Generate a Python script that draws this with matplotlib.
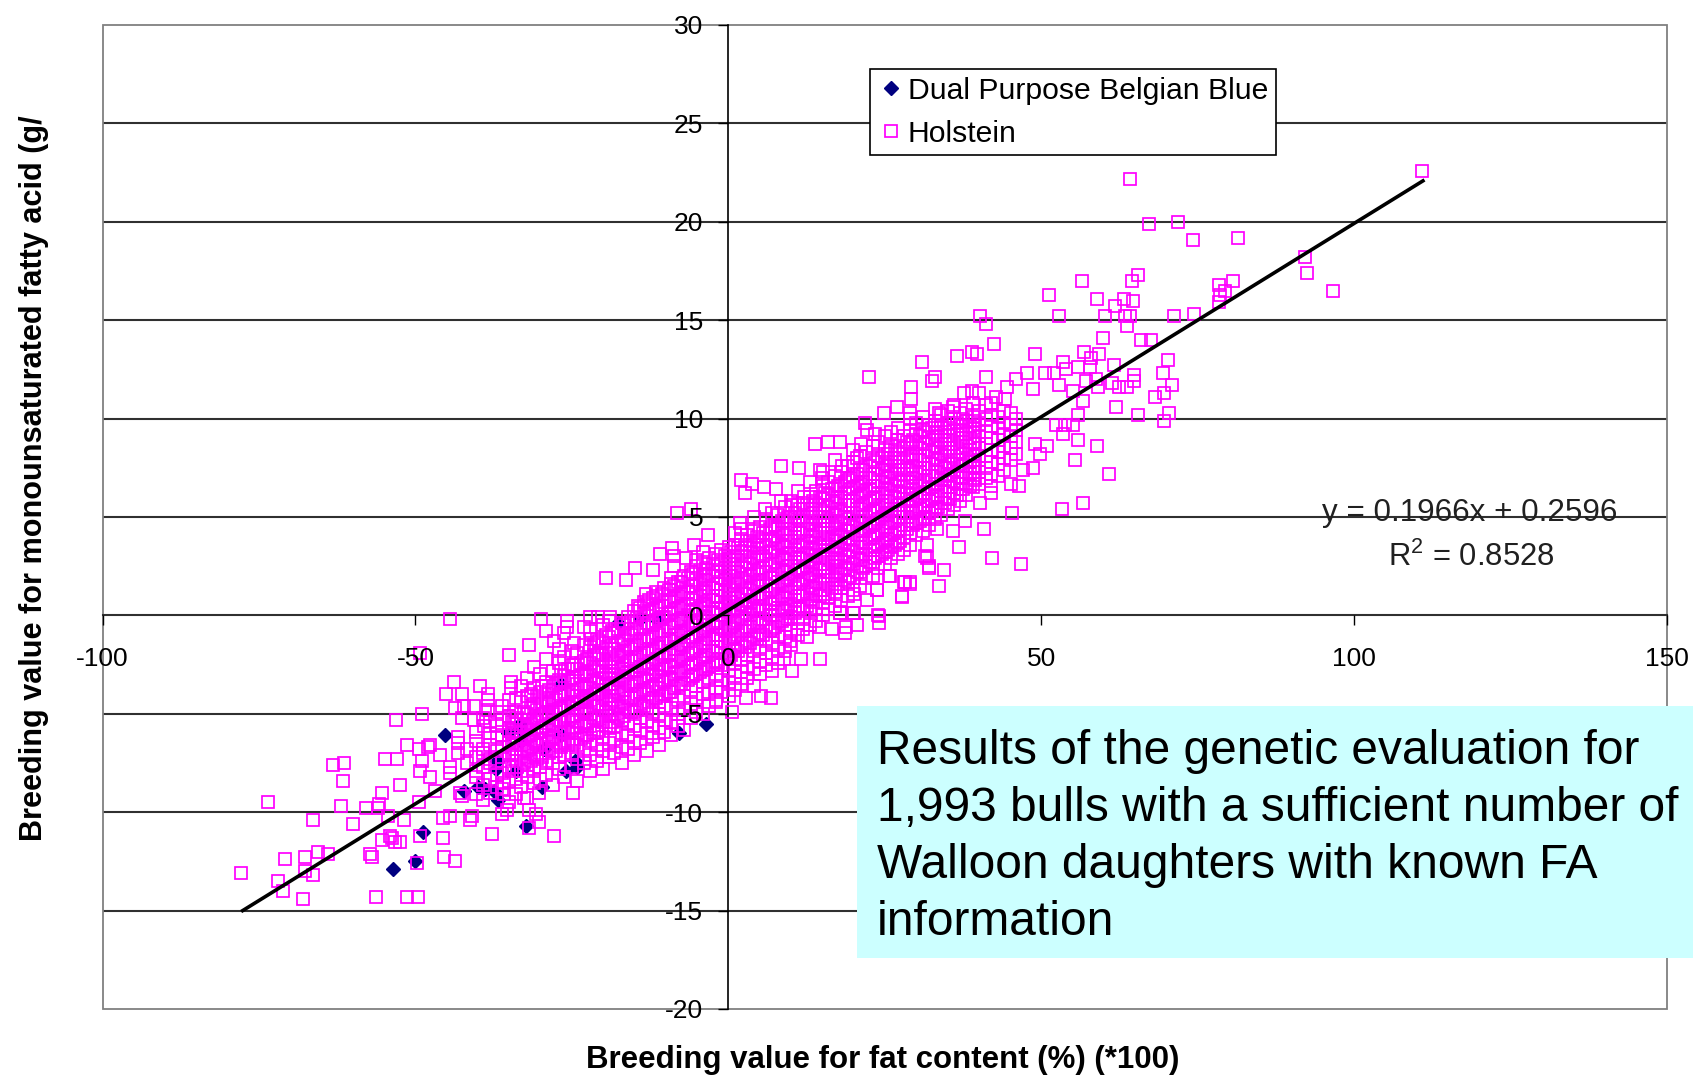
import numpy as np
import matplotlib
matplotlib.use("Agg")
import matplotlib.pyplot as plt
from matplotlib.patches import Rectangle

plt.rcParams['font.family'] = ['Liberation Sans', 'DejaVu Sans']
plt.rcParams['mathtext.fontset'] = 'custom'
plt.rcParams['mathtext.rm'] = 'Liberation Sans'
plt.rcParams['mathtext.default'] = 'regular'
plt.rcParams['axes.unicode_minus'] = False

# Dual Purpose Belgian Blue
blue_x = [-45.2, -48.8, -50.0, -53.5, -36.8, -37.5, -40.0, -38.8, -42.3, -32.4, -29.7, -34.0, -37.2, -36.9,
          -35.2, -33.3, -33.2, -29.5, -26.0, -24.1, -26.8, -26.8, -3.5, -11.2, -14.1, -17.7, -7.9, -35.0, -33.3,
          -24.5]
blue_y = [-6.1, -11.0, -12.5, -12.9, -9.4, -8.9, -8.7, -8.8, -8.9, -10.7, -8.7, -7.9, -7.8, -7.4,
          -6.0, -5.7, -6.4, -6.8, -7.9, -7.7, -6.1, -3.5, -5.5, -0.3, -0.2, -0.4, -6.0, -6.0, -5.5,
          -7.4]

# Holstein, outlying points that can be read one by one (x, y)
holstein_low = [
    (-77.9, -13.1), (-73.6, -9.5), (-71.9, -13.5), (-71.2, -14.0), (-70.9, -12.4), (-67.9, -14.4), (-67.6, -12.3),
    (-67.6, -13.0), (-66.4, -13.2), (-66.4, -10.4), (-65.6, -12.0), (-64.0, -12.1), (-63.1, -7.6), (-61.4, -7.5),
    (-61.6, -8.4), (-61.9, -9.7), (-59.9, -10.6), (-57.9, -9.8), (-57.3, -12.1), (-56.9, -12.3), (-56.3, -14.3),
    (-56.0, -9.8), (-55.8, -9.6), (-55.4, -9.0), (-55.3, -11.4), (-54.9, -7.3), (-53.1, -5.3), (-52.9, -7.3),
    (-54.3, -10.2), (-54.0, -11.2), (-53.7, -11.3), (-53.2, -11.5), (-52.4, -11.5), (-52.4, -8.6), (-51.9, -10.4),
    (-51.3, -14.3), (-51.3, -6.6), (-49.6, -14.3), (-49.8, -12.6), (-49.2, -11.2), (-49.4, -9.5), (-49.2, -7.9),
    (-48.9, -7.4), (-49.5, -6.8), (-48.9, -5.0), (-49.2, -1.9), (-44.4, -0.2), (-48.0, -6.7), (-47.6, -6.6),
    (-47.6, -8.2), (-46.1, -7.1), (-46.8, -8.9), (-45.6, -10.3), (-45.6, -11.3), (-45.4, -12.3), (-43.6, -12.5),
    (-44.4, -10.2), (-45.1, -4.0), (-43.9, -3.4), (-42.6, -4.0), (-43.6, -4.7), (-42.3, -4.6), (-40.7, -4.6),
    (-42.6, -5.2), (-40.7, -5.3), (-39.1, -5.6), (-39.6, -3.6), (-38.4, -4.0), (-38.4, -4.3), (-38.4, -4.8),
    (-43.2, -6.2), (-43.2, -6.5), (-43.2, -7.0), (-41.7, -6.8), (-44.4, -7.7), (-44.4, -8.0), (-41.7, -7.5),
    (-42.8, -9.0), (-42.6, -9.2), (-40.9, -10.2), (-41.2, -10.4), (-37.8, -11.1), (-35.3, -9.9), (-32.7, -9.3),
    (-31.9, -9.9), (-30.8, -10.1), (-30.3, -10.5), (-31.9, -10.8), (-27.9, -11.2), (-35.1, -2.0), (-29.9, -0.2),
    (-29.1, -0.8), (-31.9, -1.5), (-34.8, -3.4), (-34.8, -3.7), (-35.1, -5.1), (-25.8, -0.3), (-25.8, -0.6),
    (-27.9, -1.3), (-24.8, -9.0), (-30.3, -9.0), (-35.9, -9.1), (-35.9, -8.5), (-26.3, -0.9), (-24.7, -1.4),
    (-22.1, -0.1), (-20.9, -0.1), (-18.9, -0.1), (-21.9, -1.2), (-19.6, 1.9), (-16.4, 1.8), (-14.9, 2.4),
    (-12.1, 2.3), (-10.9, 3.1), (-9.0, 3.4), (-8.2, 5.2), (-5.9, 5.4), (-3.2, 4.1), (-5.5, 3.6), (-8.7, 3.0),
    (-8.6, 2.5), (-9.1, 1.9), (-9.1, 1.3), (-6.8, 2.9), (-5.1, 2.8), (-13.2, 1.1), (-11.6, 1.2), (-14.5, 0.5),
]
holstein_mid = [
    (0.6, -4.9), (2.8, -4.2), (-1.9, -4.4), (5.2, -4.1), (6.9, -4.2), (7.0, -2.8), (10.1, -2.8), (11.6, -2.2),
    (14.6, -2.2), (8.9, -2.2), (9.9, -1.3), (12.6, -1.1), (14.5, -0.6), (16.6, -0.7), (18.6, -0.9), (18.8, -0.6),
    (20.6, -0.5), (24.1, -0.4), (24.1, -0.05), (20.1, 0.1), (17.8, 0.1), (27.8, 1.0), (29.1, 1.6), (28.1, 1.7),
    (25.9, 2.0), (23.8, 1.3), (22.2, 0.8), (20.1, 1.1), (34.5, 2.3), (33.7, 1.5), (32.1, 2.4), (31.8, 2.9),
    (2.1, 6.9), (3.8, 6.7), (2.6, 6.2), (5.7, 6.5), (7.6, 6.4), (8.4, 7.6), (11.3, 7.5), (14.6, 7.4), (18.1, 7.6),
    (15.0, 7.0), (5.9, 5.4), (8.4, 5.8), (12.1, 6.0), (10.2, 5.6), (1.9, 4.7), (13.9, 8.7), (15.9, 8.8), (17.8, 8.8),
    (21.2, 8.7), (20.6, 8.0), (22.5, 12.1), (21.8, 9.8), (22.2, 9.4), (23.5, 9.2), (24.9, 10.3), (26.9, 10.6),
    (29.0, 10.3), (29.2, 11.0), (29.2, 11.6), (30.96, 12.9), (32.5, 11.9), (33.0, 12.1), (33.7, 10.3), (35.96, 10.6),
    (36.5, 13.2), (37.7, 11.3), (38.9, 13.4), (39.7, 13.3), (39.0, 11.4), (40.0, 11.3), (27.7, 0.96), (28.2, 1.7),
    (29.0, 1.7), (23.7, 1.3), (24.0, 0.0), (25.6, 2.0), (20.0, 0.1), (17.9, 0.1), (31.7, 3.6), (31.4, 3.0),
    (32.0, 2.5), (33.3, 4.4), (35.96, 4.3), (36.9, 3.5), (37.8, 4.8), (40.2, 5.7), (40.9, 4.4), (41.9, 6.2),
]
holstein_high = [
    (40.2, 15.2), (41.2, 14.8), (42.4, 13.8), (41.2, 12.1), (42.7, 11.1), (44.2, 11.0), (44.5, 11.6), (45.9, 12.0),
    (47.7, 12.3), (49.0, 13.3), (48.7, 11.5), (50.6, 12.3), (52.0, 12.3), (53.5, 12.9), (53.9, 12.5), (55.96, 12.6),
    (56.8, 13.4), (57.9, 13.1), (59.3, 13.3), (57.8, 12.6), (57.1, 11.9), (58.8, 12.0), (61.7, 12.7), (52.9, 11.7),
    (55.1, 11.4), (56.7, 10.9), (59.05, 11.6), (61.3, 11.8), (62.4, 11.6), (63.7, 11.6), (64.9, 11.9), (64.8, 12.2),
    (69.4, 12.3), (70.2, 13.0), (70.9, 11.7), (69.7, 11.3), (68.2, 11.1), (61.9, 10.6), (65.4, 10.2), (70.5, 10.3),
    (69.7, 9.9), (55.9, 10.2), (52.4, 9.7), (53.8, 9.7), (55.1, 9.7), (53.5, 9.2), (55.96, 8.9), (58.9, 8.6),
    (55.4, 7.9), (60.9, 7.2), (56.7, 5.7), (53.4, 5.4), (45.4, 5.2), (42.2, 2.9), (46.7, 2.6), (50.9, 8.6),
    (49.0, 8.7), (49.8, 8.2), (48.7, 7.5), (47.1, 7.4), (46.5, 6.6), (45.2, 6.7), (51.2, 16.3), (52.9, 15.2),
    (56.5, 17.0), (58.9, 16.1), (59.9, 14.1), (60.2, 15.2), (61.8, 15.7), (63.3, 16.1), (64.6, 16.0), (65.4, 17.3),
    (64.5, 17.0), (63.7, 14.7), (64.2, 15.2), (63.4, 15.2), (65.9, 14.0), (67.5, 14.0), (71.2, 15.2), (74.4, 15.3),
    (78.4, 15.9), (78.6, 16.3), (79.4, 16.5), (78.4, 16.8), (80.7, 17.0), (92.2, 18.2), (92.4, 17.4), (96.7, 16.5),
    (81.4, 19.2), (74.2, 19.1), (71.9, 20.0), (67.2, 19.9), (64.2, 22.2), (110.9, 22.6),
]
# Holstein, dense cloud: single points cannot be told apart there, so these are estimates (x, [y, ...])
holstein_core = [
    (-40.3, [-9.1, -8.2, -7.9, -7.2, -6.4, -5.9]), (-39.2, [-9.4, -8.6, -7.7, -7.0, -6.8, -5.2]),
    (-38.1, [-9.0, -8.3, -7.5, -7.3, -6.6, -6.0, -5.4]), (-37.0, [-8.7, -8.1, -7.4, -6.9, -6.2, -5.6, -4.9]),
    (-36.2, [-10.1, -8.8, -8.0, -7.2, -6.7, -6.1, -5.3, -4.6]), (-35.1, [-9.5, -8.4, -7.7, -7.0, -6.5, -5.8, -5.1, -4.3]),
    (-34.0, [-9.1, -8.3, -7.4, -6.8, -6.3, -5.5, -4.9, -4.2]), (-33.1, [-8.7, -7.9, -7.2, -6.6, -6.0, -5.3, -4.4, -3.6]),
    (-32.2, [-9.3, -8.2, -7.6, -6.9, -6.2, -5.7, -5.0, -4.1, -3.2]), (-31.0, [-8.5, -7.8, -7.1, -6.4, -5.8, -5.2, -4.5, -3.7, -2.6]),
    (-30.1, [-8.3, -7.7, -7.0, -6.5, -5.9, -5.1, -4.6, -3.9, -3.0]), (-29.2, [-8.1, -7.4, -6.8, -6.1, -5.6, -4.9, -4.3, -3.4, -2.2]),
    (-28.0, [-8.6, -7.5, -6.9, -6.2, -5.5, -5.0, -4.2, -3.6, -2.8]), (-27.1, [-7.8, -7.2, -6.5, -5.9, -5.3, -4.7, -4.0, -3.3, -2.4, -1.7]),
    (-26.2, [-8.2, -7.1, -6.4, -5.7, -5.2, -4.6, -3.9, -3.1, -2.1]), (-25.0, [-7.7, -7.0, -6.3, -5.8, -5.1, -4.4, -3.8, -3.2, -2.5, -1.8]),
    (-24.1, [-8.4, -7.3, -6.6, -6.0, -5.4, -4.7, -4.1, -3.5, -2.7, -1.9]), (-23.0, [-7.5, -6.8, -6.1, -5.5, -4.9, -4.2, -3.6, -3.0, -2.3, -1.5, -0.6]),
    (-22.1, [-7.9, -7.1, -6.4, -5.6, -5.0, -4.3, -3.7, -3.1, -2.4, -1.6, -0.8]), (-21.0, [-7.4, -6.6, -5.9, -5.3, -4.6, -4.0, -3.4, -2.8, -2.0, -1.2]),
    (-20.1, [-7.8, -6.9, -6.2, -5.4, -4.8, -4.1, -3.5, -2.9, -2.2, -1.4, -0.5]), (-19.0, [-7.2, -6.5, -5.7, -5.1, -4.5, -3.8, -3.2, -2.6, -1.9, -1.1, -0.3]),
    (-18.2, [-7.0, -6.3, -5.6, -5.0, -4.3, -3.7, -3.0, -2.4, -1.7, -0.9]), (-17.0, [-7.5, -6.7, -6.0, -5.3, -4.7, -4.0, -3.3, -2.7, -2.1, -1.3, -0.4]),
    (-16.1, [-6.8, -6.1, -5.5, -4.8, -4.2, -3.5, -2.9, -2.3, -1.6, -0.9, -0.1]), (-15.0, [-7.1, -6.4, -5.6, -4.9, -4.1, -3.4, -2.8, -2.2, -1.5, -0.7, 0.2]),
    (-14.1, [-6.5, -5.8, -5.2, -4.5, -3.9, -3.2, -2.6, -2.0, -1.3, -0.6, 0.4]), (-13.0, [-6.9, -6.0, -5.4, -4.7, -4.0, -3.3, -2.7, -1.9, -1.2, -0.4, 0.6]),
    (-12.1, [-6.2, -5.6, -4.9, -4.2, -3.6, -3.0, -2.4, -1.8, -1.1, -0.5, 0.3, 0.9]), (-11.0, [-6.6, -5.7, -5.0, -4.4, -3.7, -3.1, -2.5, -1.6, -1.0, -0.2, 0.5]),
    (-10.2, [-5.9, -5.3, -4.6, -4.0, -3.4, -2.7, -2.1, -1.4, -0.8, -0.1, 0.7, 1.4]), (-9.1, [-6.1, -5.4, -4.7, -3.9, -3.3, -2.6, -2.0, -1.3, -0.6, 0.1, 0.8, 1.6]),
    (-8.0, [-5.6, -5.0, -4.3, -3.6, -2.9, -2.3, -1.7, -1.0, -0.3, 0.4, 1.0, 1.7]), (-7.1, [-5.8, -4.8, -4.1, -3.5, -2.8, -2.2, -1.5, -0.9, -0.2, 0.5, 1.2, 2.0]),
    (-6.0, [-5.2, -4.5, -3.8, -3.1, -2.5, -1.9, -1.1, -0.4, 0.2, 0.9, 1.5, 2.2]), (-5.1, [-4.9, -4.2, -3.6, -3.0, -2.4, -1.7, -1.0, -0.3, 0.3, 1.1, 1.8, 2.5]),
    (-4.0, [-5.0, -4.0, -3.4, -2.7, -2.1, -1.4, -0.8, -0.1, 0.6, 1.3, 2.0, 2.7, 3.2]), (-3.1, [-4.6, -3.9, -3.2, -2.6, -1.8, -1.2, -0.5, 0.1, 0.8, 1.4, 2.1, 2.9]),
    (-2.0, [-4.3, -3.7, -3.0, -2.3, -1.6, -1.0, -0.4, 0.3, 1.0, 1.6, 2.3, 3.1]), (-1.1, [-3.9, -3.3, -2.5, -1.9, -1.3, -0.6, 0.0, 0.7, 1.3, 1.9, 2.6, 3.3]),
    (0.1, [-4.1, -3.4, -2.8, -2.1, -1.4, -0.7, 0.2, 0.9, 1.5, 2.2, 2.8, 3.5]), (1.0, [-3.8, -3.1, -2.4, -1.7, -1.1, -0.4, 0.4, 1.1, 1.7, 2.4, 3.0, 3.6, 4.2]),
    (2.1, [-3.5, -2.9, -2.2, -1.5, -0.8, -0.1, 0.6, 1.2, 1.9, 2.5, 3.2, 3.9, 4.4]), (3.0, [-3.2, -2.6, -2.0, -1.3, -0.6, 0.1, 0.8, 1.4, 2.1, 2.7, 3.4, 4.1]),
    (4.1, [-3.6, -2.7, -1.8, -1.1, -0.4, 0.3, 1.0, 1.6, 2.3, 2.9, 3.6, 4.3, 5.0]), (5.0, [-3.0, -2.3, -1.6, -0.9, -0.2, 0.5, 1.1, 1.8, 2.4, 3.1, 3.8, 4.5]),
    (6.1, [-2.5, -1.9, -1.2, -0.5, 0.2, 0.9, 1.5, 2.2, 2.8, 3.5, 4.2, 4.9]), (7.0, [-2.1, -1.4, -0.7, 0.0, 0.6, 1.3, 1.9, 2.6, 3.2, 3.9, 4.5, 5.2]),
    (8.0, [-2.4, -1.7, -1.0, -0.3, 0.4, 1.0, 1.7, 2.3, 3.0, 3.7, 4.4, 5.1]), (9.1, [-1.8, -1.1, -0.5, 0.2, 0.9, 1.5, 2.2, 2.8, 3.5, 4.1, 4.8, 5.5]),
    (10.0, [-1.5, -0.8, -0.1, 0.5, 1.2, 1.8, 2.5, 3.1, 3.8, 4.4, 5.0, 5.8]), (11.1, [-1.0, -0.4, 0.3, 1.0, 1.6, 2.3, 2.9, 3.6, 4.2, 4.9, 5.6, 6.3]),
    (12.0, [-0.7, -0.2, 0.5, 1.1, 1.8, 2.4, 3.1, 3.7, 4.4, 5.0, 5.7]), (13.1, [-0.5, 0.2, 0.8, 1.5, 2.1, 2.8, 3.4, 4.1, 4.7, 5.4, 6.0, 6.8]),
    (14.0, [-0.3, 0.4, 1.1, 1.7, 2.4, 3.0, 3.7, 4.3, 5.0, 5.6, 6.3]), (15.1, [0.0, 0.7, 1.3, 2.0, 2.6, 3.3, 3.9, 4.6, 5.2, 5.9, 6.6, 7.3]),
    (16.0, [0.3, 0.9, 1.6, 2.2, 2.9, 3.5, 4.2, 4.8, 5.5, 6.1, 6.8]), (17.1, [0.5, 1.2, 1.8, 2.5, 3.1, 3.8, 4.4, 5.1, 5.7, 6.4, 7.1, 7.9]),
    (18.0, [0.8, 1.4, 2.1, 2.7, 3.4, 4.0, 4.7, 5.3, 6.0, 6.6, 7.3]), (19.1, [1.0, 1.7, 2.3, 3.0, 3.6, 4.3, 4.9, 5.6, 6.2, 6.9, 7.6]),
    (20.0, [1.3, 1.9, 2.6, 3.2, 3.9, 4.5, 5.2, 5.8, 6.5, 7.1, 7.8, 8.4]), (21.1, [1.5, 2.2, 2.8, 3.5, 4.1, 4.8, 5.4, 6.1, 6.7, 7.4, 8.1]),
    (22.0, [1.9, 2.5, 3.1, 3.7, 4.4, 5.0, 5.7, 6.3, 7.0, 7.6, 8.3]), (23.1, [2.0, 2.7, 3.3, 4.0, 4.6, 5.3, 5.9, 6.6, 7.2, 7.9, 8.6]),
    (24.0, [2.4, 3.0, 3.6, 4.2, 4.9, 5.5, 6.2, 6.8, 7.5, 8.1, 8.8]), (25.1, [2.6, 3.2, 3.8, 4.5, 5.1, 5.8, 6.4, 7.1, 7.7, 8.4, 9.1]),
    (26.0, [2.9, 3.5, 4.1, 4.7, 5.4, 6.0, 6.7, 7.3, 8.0, 8.6, 9.3]), (27.1, [3.1, 3.7, 4.3, 5.0, 5.6, 6.3, 6.9, 7.6, 8.2, 8.9, 9.5]),
    (28.0, [3.3, 4.0, 4.6, 5.2, 5.9, 6.5, 7.2, 7.8, 8.5, 9.1]), (29.1, [3.6, 4.2, 4.8, 5.5, 6.1, 6.8, 7.4, 8.1, 8.7, 9.4, 10.0]),
    (30.0, [4.1, 4.7, 5.3, 5.9, 6.6, 7.2, 7.9, 8.5, 9.2, 9.8]), (31.1, [4.3, 4.9, 5.5, 6.2, 6.8, 7.5, 8.1, 8.8, 9.4, 10.1]),
    (32.0, [4.6, 5.2, 5.8, 6.4, 7.1, 7.7, 8.4, 9.0, 9.7]), (33.1, [4.9, 5.4, 6.0, 6.7, 7.3, 8.0, 8.6, 9.3, 9.9, 10.5]),
    (34.0, [5.1, 5.7, 6.3, 6.9, 7.6, 8.2, 8.9, 9.5, 10.2]), (35.1, [5.4, 5.9, 6.5, 7.2, 7.8, 8.5, 9.1, 9.8, 10.4]),
    (36.0, [5.6, 6.2, 6.8, 7.4, 8.1, 8.7, 9.4, 10.0, 10.7]), (37.1, [5.8, 6.4, 7.0, 7.7, 8.3, 9.0, 9.6, 10.3]),
    (38.0, [6.1, 6.7, 7.3, 7.9, 8.6, 9.2, 9.9, 10.5]), (39.1, [6.5, 7.0, 7.6, 8.2, 8.8, 9.5, 10.1, 10.8]),
    (40.0, [6.7, 7.3, 7.9, 8.5, 9.1, 9.7, 10.4]), (41.1, [7.0, 7.5, 8.1, 8.7, 9.3, 10.0, 10.7]),
    (42.0, [6.6, 7.2, 7.8, 8.4, 9.0, 9.6, 10.2, 10.8]), (43.1, [7.1, 7.7, 8.3, 8.9, 9.5, 10.1]),
    (44.0, [7.4, 8.0, 8.6, 9.2, 9.8, 10.4]), (45.1, [7.9, 8.5, 9.1, 9.7, 10.3]), (46.0, [8.2, 8.8, 9.4, 10.0]),
]
# second, staggered set of estimates for the middle of the cloud, where the marks merge
holstein_core_mid = [
    (-34.6, [-7.9, -7.1, -6.6, -6.0, -5.4]), (-33.7, [-7.7, -7.0, -6.5, -5.9, -5.2]), (-32.7, [-7.5, -6.8, -6.3, -5.6, -4.9]),
    (-31.6, [-7.4, -6.7, -6.1, -5.5, -4.7, -4.0]), (-30.6, [-7.3, -6.6, -6.0, -5.3, -4.8, -4.1]), (-29.7, [-7.2, -6.3, -5.7, -5.0, -4.4, -3.6]),
    (-28.6, [-7.0, -6.4, -5.8, -5.2, -4.5, -3.8]), (-27.6, [-6.9, -6.2, -5.6, -4.9, -4.3, -3.5]), (-26.7, [-6.7, -6.0, -5.4, -4.8, -4.1, -3.4, -2.8]),
    (-25.6, [-6.6, -5.9, -5.3, -4.6, -4.0, -3.3, -2.7]), (-24.6, [-6.5, -5.7, -5.1, -4.5, -3.9, -3.2, -2.5]), (-23.5, [-6.3, -5.6, -5.0, -4.4, -3.7, -3.1, -2.4]),
    (-22.6, [-6.1, -5.4, -4.8, -4.1, -3.5, -2.9, -2.2]), (-21.5, [-6.0, -5.2, -4.6, -4.0, -3.3, -2.7, -2.0, -1.5]), (-20.6, [-5.8, -5.1, -4.5, -3.8, -3.2, -2.6, -1.9, -1.3]),
    (-19.5, [-5.6, -4.9, -4.3, -3.6, -3.0, -2.4, -1.7, -1.0]), (-18.6, [-5.4, -4.7, -4.1, -3.5, -2.8, -2.2, -1.5, -0.8]), (-17.6, [-5.2, -4.6, -3.9, -3.3, -2.6, -2.0, -1.4, -0.7]),
    (-16.6, [-5.1, -4.4, -3.8, -3.1, -2.5, -1.8, -1.2, -0.5]), (-15.5, [-4.9, -4.2, -3.6, -2.9, -2.3, -1.7, -1.0, -0.3]), (-14.6, [-4.8, -4.0, -3.4, -2.8, -2.1, -1.5, -0.8, -0.1]),
    (-13.5, [-4.6, -3.8, -3.2, -2.6, -1.9, -1.3, -0.6, 0.1, 0.7]), (-12.6, [-4.4, -3.7, -3.1, -2.4, -1.7, -1.1, -0.4, 0.2, 0.8]), (-11.5, [-4.2, -3.5, -2.9, -2.2, -1.6, -0.9, -0.3, 0.4, 1.0]),
    (-10.6, [-4.1, -3.3, -2.7, -2.0, -1.4, -0.8, -0.1, 0.5, 1.1]), (-9.5, [-3.9, -3.2, -2.5, -1.9, -1.2, -0.6, 0.1, 0.7, 1.3]), (-8.6, [-3.7, -3.0, -2.3, -1.7, -1.0, -0.4, 0.3, 0.9, 1.5]),
    (-7.6, [-3.5, -2.8, -2.1, -1.5, -0.8, -0.2, 0.5, 1.1, 1.7]), (-6.5, [-3.3, -2.6, -2.0, -1.3, -0.7, 0.0, 0.6, 1.2, 1.9]), (-5.6, [-3.1, -2.4, -1.8, -1.1, -0.5, 0.2, 0.8, 1.5, 2.1]),
    (-4.5, [-2.9, -2.2, -1.6, -0.9, -0.3, 0.4, 1.0, 1.6, 2.3]), (-3.6, [-2.7, -2.0, -1.4, -0.7, -0.1, 0.5, 1.2, 1.8, 2.4]), (-2.5, [-2.5, -1.8, -1.2, -0.5, 0.1, 0.8, 1.4, 2.0, 2.6]),
    (-1.6, [-2.4, -1.6, -1.0, -0.3, 0.3, 1.0, 1.6, 2.2, 2.8]), (-0.5, [-2.2, -1.4, -0.8, -0.1, 0.5, 1.2, 1.8, 2.4, 3.0]), (0.5, [-2.0, -1.2, -0.6, 0.1, 0.7, 1.3, 2.0, 2.6, 3.2]),
    (1.5, [-1.8, -1.0, -0.3, 0.3, 0.9, 1.6, 2.2, 2.8, 3.4]), (2.6, [-1.6, -0.8, -0.2, 0.5, 1.1, 1.7, 2.4, 3.0, 3.6]), (3.5, [-1.4, -0.6, 0.0, 0.7, 1.3, 2.0, 2.6, 3.2, 3.8]),
    (4.6, [-1.2, -0.4, 0.2, 0.9, 1.5, 2.1, 2.8, 3.4, 4.0]), (5.5, [-1.0, -0.2, 0.4, 1.1, 1.7, 2.4, 3.0, 3.6, 4.2]), (6.6, [-0.8, 0.0, 0.6, 1.3, 1.9, 2.5, 3.2, 3.8, 4.4]),
    (7.5, [-0.6, 0.2, 0.8, 1.5, 2.1, 2.7, 3.4, 4.0, 4.6]), (8.6, [-0.3, 0.4, 1.0, 1.7, 2.3, 2.9, 3.6, 4.2, 4.8]), (9.5, [-0.2, 0.6, 1.2, 1.9, 2.5, 3.1, 3.8, 4.4, 5.0]),
    (10.6, [0.1, 0.8, 1.4, 2.1, 2.7, 3.3, 4.0, 4.6, 5.2]), (11.5, [0.3, 1.0, 1.6, 2.3, 2.9, 3.5, 4.2, 4.8, 5.4]), (12.6, [0.5, 1.2, 1.9, 2.5, 3.1, 3.8, 4.4, 5.0, 5.6]),
    (13.5, [0.7, 1.4, 2.0, 2.7, 3.3, 4.0, 4.6, 5.2, 5.8]), (14.6, [1.0, 1.6, 2.3, 2.9, 3.5, 4.2, 4.8, 5.4, 6.0]), (15.5, [1.1, 1.8, 2.4, 3.1, 3.7, 4.4, 5.0, 5.6, 6.2]),
    (16.6, [1.4, 2.0, 2.7, 3.3, 3.9, 4.6, 5.2, 5.8, 6.4]), (17.5, [1.6, 2.2, 2.9, 3.5, 4.1, 4.8, 5.4, 6.0, 6.6]), (18.6, [1.8, 2.4, 3.1, 3.7, 4.3, 5.0, 5.6, 6.2, 6.8]),
    (19.5, [2.0, 2.7, 3.3, 3.9, 4.6, 5.2, 5.8, 6.4, 7.0]), (20.6, [2.2, 2.9, 3.5, 4.1, 4.8, 5.4, 6.0, 6.6, 7.2]), (21.5, [2.4, 3.1, 3.7, 4.3, 5.0, 5.6, 6.2, 6.8, 7.4]),
    (22.6, [2.7, 3.3, 3.9, 4.5, 5.2, 5.8, 6.4, 7.0, 7.6]), (23.5, [2.9, 3.5, 4.1, 4.7, 5.4, 6.0, 6.6, 7.2, 7.8]), (24.6, [3.1, 3.7, 4.3, 5.0, 5.6, 6.2, 6.8, 7.4, 8.0]),
    (25.5, [3.3, 3.9, 4.5, 5.2, 5.8, 6.4, 7.0, 7.6, 8.2]), (26.6, [3.6, 4.2, 4.8, 5.4, 6.0, 6.6, 7.2, 7.8, 8.4]), (27.5, [3.8, 4.4, 5.0, 5.6, 6.2, 6.8, 7.4, 8.0, 8.6]),
    (28.6, [4.4, 5.0, 5.6, 6.2, 6.8, 7.5, 8.0, 8.8]), (29.5, [4.6, 5.2, 5.8, 6.4, 7.0, 7.6, 8.2, 8.9]), (30.6, [4.8, 5.4, 6.0, 6.6, 7.3, 7.9, 8.5, 9.1]),
    (31.5, [5.0, 5.6, 6.2, 6.9, 7.5, 8.1, 8.7, 9.3]), (32.6, [5.3, 5.9, 6.5, 7.1, 7.7, 8.3, 8.9, 9.5]), (33.5, [5.5, 6.1, 6.7, 7.3, 7.9, 8.5, 9.1, 9.7]),
    (34.6, [5.7, 6.3, 6.9, 7.5, 8.1, 8.7, 9.3]), (35.5, [5.9, 6.5, 7.1, 7.7, 8.3, 8.9, 9.5]), (36.6, [6.1, 6.7, 7.3, 7.9, 8.5, 9.2, 9.8]),
    (37.5, [6.4, 7.0, 7.6, 8.2, 8.8, 9.4, 10.0]), (38.6, [6.6, 7.2, 7.8, 8.4, 9.0, 9.6]), (39.5, [6.9, 7.5, 8.1, 8.7, 9.3, 9.9]),
]

trend_x = [-77.6, 111.0]
trend_y = [-15.0, 22.08]

x_ticks = [-100, -50, 0, 50, 100, 150]
y_ticks = [-20, -15, -10, -5, 0, 5, 10, 15, 20, 25, 30]
grid_y = [-15, -10, -5, 5, 10, 15, 20, 25]

hol = holstein_low + holstein_mid + holstein_high
hol_x = [p[0] for p in hol]
hol_y = [p[1] for p in hol]
for cx, ys in holstein_core + holstein_core_mid:
    for cy in ys:
        hol_x.append(cx)
        hol_y.append(cy)

W, H = 1693, 1075
fig = plt.figure(figsize=(W / 100, H / 100), dpi=100)
ax = fig.add_axes([102.5 / W, 1 - 1009 / H, (1667 - 102.5) / W, (1009 - 25) / H])
ax.set_xlim(-100, 150)
ax.set_ylim(-20, 30)

# grid under the points, frame in grey, axes cross at zero
ax.hlines(grid_y, -100, 150, color='#303030', lw=1.5, zorder=1)
ax.add_patch(Rectangle((0, 0), 1, 1, transform=ax.transAxes, fill=False, ec='#808080', lw=1.3, clip_on=False, zorder=1))
ax.spines['top'].set_visible(False)
ax.spines['right'].set_visible(False)
ax.spines['left'].set_position(('data', 0))
ax.spines['bottom'].set_position(('data', 0))
ax.spines['left'].set_linewidth(1.2)
ax.spines['bottom'].set_linewidth(1.5)
ax.spines['bottom'].set_color('#303030')
ax.spines['left'].set_zorder(1)
ax.spines['bottom'].set_zorder(1)

ax.plot(blue_x, blue_y, 'D', color='#000080', ms=7, ls='none', zorder=2, label='Dual Purpose Belgian Blue')
ax.plot(hol_x, hol_y, 's', mfc='none', mec='#FF00FF', mew=1.25, ms=8, ls='none', zorder=2.1, label='Holstein')
ax.plot(trend_x, trend_y, color='black', lw=2.6, zorder=2.2)

ax.set_axisbelow(False)
ax.set_xticks(x_ticks)
ax.set_yticks(y_ticks)
ax.tick_params(axis='x', direction='out', length=7, width=1, pad=16, labelsize=19)
ax.tick_params(axis='y', direction='out', length=7, width=1, pad=11, labelsize=19)

fig.text(883 / W, 1 - 1060 / H, 'Breeding value for fat content (%) (*100)', ha='center', va='center',
         fontsize=22.5, fontweight='bold')
fig.text(34 / W, 1 - 478 / H, 'Breeding value for monounsaturated fatty acid (g/', ha='center', va='center',
         rotation=90, fontsize=22.1, fontweight='bold')

ax.text(1470 / W, 1 - 513 / H, 'y = 0.1966x + 0.2596', transform=fig.transFigure, ha='center', va='center',
        fontsize=22.6, color='#202020', zorder=4)
ax.text(1471 / W, 1 - 557 / H, 'R$^{2}$ = 0.8528', transform=fig.transFigure, ha='center', va='center',
        fontsize=22.3, color='#202020', zorder=4)

leg = ax.legend(loc='upper left', bbox_to_anchor=(870 / W, 1 - 69 / H), bbox_transform=fig.transFigure,
                borderaxespad=0, fancybox=False, framealpha=1, edgecolor='black', fontsize=21.7,
                handletextpad=0.1, handlelength=0.9, labelspacing=0.5, borderpad=0.25)
leg.get_frame().set_linewidth(1.2)
leg.set_zorder(4)

# cyan note over the lower right corner
fig.add_artist(Rectangle((857 / W, 1 - 958 / H), (W - 857) / W, (958 - 706) / H, transform=fig.transFigure,
                         fc='#CCFFFF', ec='none', zorder=5))
fig.text(877 / W, 1 - 837 / H,
         'Results of the genetic evaluation for\n1,993 bulls with a sufficient number of\n'
         'Walloon daughters with known FA\ninformation',
         ha='left', va='center', fontsize=34.5, linespacing=1.345, zorder=6)

fig.savefig('out.png', dpi=100)
